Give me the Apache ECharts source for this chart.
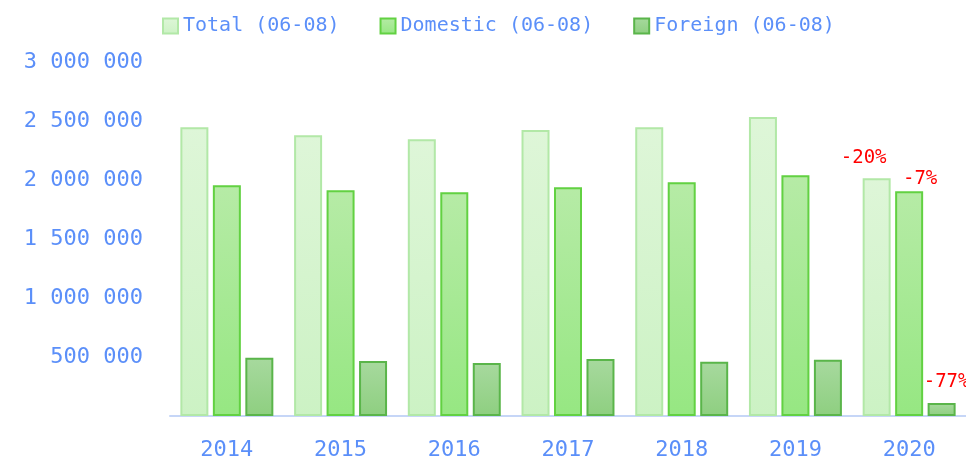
<!DOCTYPE html>
<html>
<head>
<meta charset="utf-8">
<script src="https://cdn.jsdelivr.net/npm/echarts@6/dist/echarts.min.js"></script>
<style>
  html, body { margin: 0; padding: 0; background: #fff; }
  #chart { width: 966px; height: 461px; }
</style>
</head>
<body>
<div id="chart"></div>
<script>
var years = ['2014', '2015', '2016', '2017', '2018', '2019', '2020']
var total = [2448000, 2380000, 2346000, 2423000, 2448000, 2533000, 2015000]
var domestic = [1955000, 1913000, 1896000, 1938000, 1981000, 2040000, 1904000]
var foreign = [493000, 467000, 450000, 484000, 459000, 476000, 110000]
var changeLabels = ['-20%', '-7%', '-77%']

var blue = '#5b8ff9'
var font = 'DejaVu Sans Mono'

function grad(top, bottom) {
    return new echarts.graphic.LinearGradient(0, 0, 0, 1, [
        { offset: 0, color: top },
        { offset: 1, color: bottom }
    ])
}

function withLabel(values, text, offset) {
    return values.map(function (v, i) {
        if (i !== values.length - 1) return v
        return {
            value: v,
            label: {
                show: true,
                position: 'top',
                formatter: text,
                color: '#ff0000',
                fontFamily: font,
                fontSize: 19,
                offset: offset
            }
        }
    })
}

var myChart = echarts.init(document.getElementById('chart'))
myChart.setOption({
    animation: false,
    legend: {
        top: 11,
        left: 157,
        icon: 'rect',
        itemWidth: 15,
        itemHeight: 15,
        itemGap: 40,
        textStyle: { color: blue, fontFamily: font, fontSize: 20 },
        data: ['Total (06-08)', 'Domestic (06-08)', 'Foreign (06-08)']
    },
    grid: { left: 170, right: -2, top: 62, bottom: 45 },
    xAxis: {
        type: 'category',
        data: years,
        axisLine: { lineStyle: { color: '#c6d6f7', width: 2 } },
        axisTick: { show: false },
        axisLabel: { color: blue, fontFamily: font, fontSize: 22, margin: 23 }
    },
    yAxis: {
        type: 'value',
        min: 0,
        max: 3000000,
        interval: 500000,
        splitLine: { show: false },
        axisLine: { show: false },
        axisTick: { show: false },
        axisLabel: {
            color: blue,
            fontFamily: font,
            fontSize: 22,
            margin: 27,
            formatter: function (v) {
                if (v === 0) return ''
                return String(v).replace(/\B(?=(\d{3})+(?!\d))/g, ' ')
            }
        }
    },
    series: [{
        name: 'Total (06-08)',
        type: 'bar',
        barWidth: 28,
        barGap: '16%',
        itemStyle: { color: grad('#def6d8', '#ccf2c4'), borderColor: '#b2e8a7', borderWidth: 2 },
        data: withLabel(total, changeLabels[0], [-13, -6])
    }, {
        name: 'Domestic (06-08)',
        type: 'bar',
        barWidth: 28,
        barGap: '16%',
        itemStyle: { color: grad('#b6eba6', '#96e782'), borderColor: '#62d142', borderWidth: 2 },
        data: withLabel(domestic, changeLabels[1], [11, 2])
    }, {
        name: 'Foreign (06-08)',
        type: 'bar',
        barWidth: 28,
        barGap: '16%',
        itemStyle: { color: grad('#a7d99e', '#8ecf80'), borderColor: '#5ab54a', borderWidth: 2 },
        data: withLabel(foreign, changeLabels[2], [5, -6])
    }]
})
</script>
</body>
</html>
